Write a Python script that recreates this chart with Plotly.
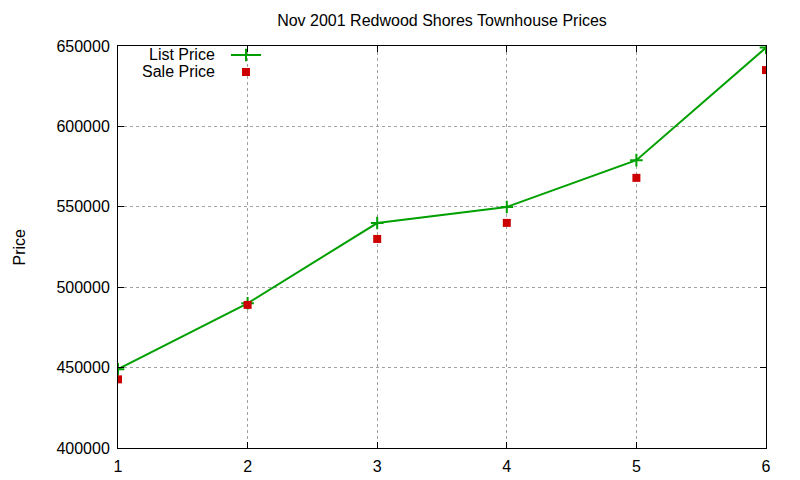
import plotly.graph_objects as go

# Nov 2001 Redwood Shores townhouse prices
listings = [1, 2, 3, 4, 5, 6]
list_price = [449000, 490000, 539900, 549900, 579000, 649000]
sale_price = [442700, 489000, 530000, 540000, 568000, 635000]

GREEN = "#00a000"
RED = "#cc0000"
FONT = "Liberation Sans, Arial, sans-serif"

# page body adds an 8px margin, so the figure is sized/offset for that
W, H = 792, 472
L, R, T, B = 110, 34, 38, 32
PW, PH = W - L - R, H - T - B


def px_x(sx):
    # screen x -> paper x
    return (sx - 8 - L) / PW


def px_y(sy):
    # screen y -> paper y
    return (H - B - (sy - 8)) / PH


fig = go.Figure()
fig.add_trace(go.Scatter(
    x=listings, y=list_price, mode="lines+markers", name=" ",
    line=dict(color=GREEN, width=2),
    marker=dict(symbol="cross-thin", size=9, line=dict(color=GREEN, width=2)),
    hovertemplate="List Price: %{y}<extra></extra>",
    legend="legend",
))
fig.add_trace(go.Scatter(
    x=listings, y=sale_price, mode="markers", name=" ",
    marker=dict(symbol="square", size=8, color=RED),
    hovertemplate="Sale Price: %{y}<extra></extra>",
    legend="legend2",
))

# gnuplot puts the key text to the left of the sample
for label, sy in [("List Price", 55), ("Sale Price", 71)]:
    fig.add_annotation(
        text=label, xref="paper", yref="paper",
        x=px_x(217), y=px_y(sy),
        xanchor="right", yanchor="middle", showarrow=False,
        font=dict(size=16, color="black", family=FONT),
    )

# y axis title, rotated, near the left edge
fig.add_annotation(
    text="Price", xref="paper", yref="paper", x=px_x(8), y=0.5,
    xanchor="left", yanchor="middle", textangle=-90, showarrow=False,
    font=dict(size=16, color="black", family=FONT),
)

axis_common = dict(
    showline=True, linecolor="black", linewidth=1, mirror="ticks",
    ticks="inside", ticklen=6, tickcolor="black",
    showgrid=True, gridcolor="#a0a0a0", griddash="dot", gridwidth=1,
    zeroline=False, automargin=False,
    tickfont=dict(size=16, color="black", family=FONT),
)

legend_common = dict(xanchor="left", yanchor="middle", bgcolor="rgba(0,0,0,0)",
                     font=dict(size=10, family=FONT))

fig.update_layout(
    width=W, height=H,
    margin=dict(l=L, r=R, t=T, b=B),
    paper_bgcolor="white", plot_bgcolor="white",
    font=dict(family=FONT, size=16, color="black"),
    title=dict(text="Nov 2001 Redwood Shores Townhouse Prices", x=(442 - 8) / W,
               xanchor="center", y=1 - (20 - 8) / H, yanchor="middle",
               font=dict(size=16, color="black", family=FONT)),
    xaxis=dict(range=[1, 6], dtick=1, ticklabelstandoff=4, **axis_common),
    yaxis=dict(range=[400000, 650000], dtick=50000, tickformat="d",
               ticklabelstandoff=4, **axis_common),
    showlegend=True,
    legend=dict(x=px_x(226), y=px_y(55), **legend_common),
    legend2=dict(x=px_x(226), y=px_y(72), **legend_common),
)

fig.write_html("out.html")
